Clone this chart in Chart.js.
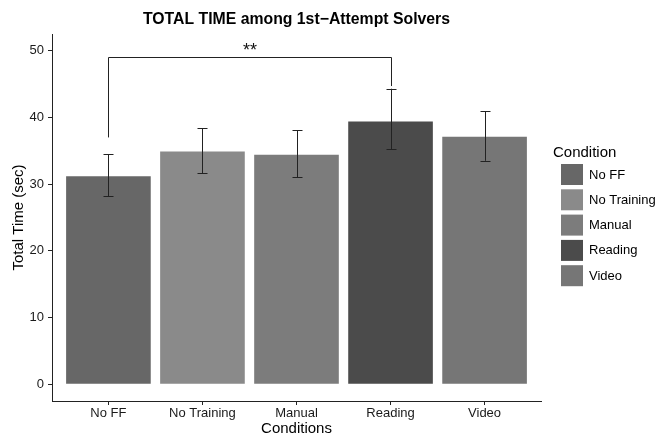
<!DOCTYPE html>
<html><head><meta charset="utf-8">
<script src="https://cdn.jsdelivr.net/npm/chart.js@4/dist/chart.umd.min.js"></script>
<style>html,body{margin:0;padding:0;background:#fff}</style>
</head><body>
<canvas id="c" width="656" height="439"></canvas>
<script>
const categories = ["No FF", "No Training", "Manual", "Reading", "Video"];
const values = [31.2, 34.9, 34.4, 39.4, 37.1];
const errLow = [28.2, 31.6, 31.0, 35.2, 33.5];
const errHigh = [34.5, 38.4, 38.1, 44.3, 40.9];
const colors = ["#676767", "#8a8a8a", "#7c7c7c", "#4b4b4b", "#767676"];
const yTicks = [0, 10, 20, 30, 40, 50];
const bracket = {from: 1, to: 4, leftY: 37.0, topY: 49.0, rightY: 44.7, label: "**"};
const FONT = "'Liberation Sans', Arial, Helvetica, sans-serif";

const overlay = {
  id: 'overlay',
  afterDatasetsDraw(chart) {
    const ctx = chart.ctx, x = chart.scales.x, y = chart.scales.y;
    ctx.save();
    // error bars
    ctx.strokeStyle = '#222'; ctx.lineWidth = 1;
    values.forEach((v, i) => {
      const px = Math.round(x.getPixelForValue(i + 1)) + 0.5;
      const lo = y.getPixelForValue(errLow[i]), hi = y.getPixelForValue(errHigh[i]);
      ctx.beginPath();
      ctx.moveTo(px, lo); ctx.lineTo(px, hi);
      ctx.moveTo(px - 5, Math.round(lo) + 0.5); ctx.lineTo(px + 5, Math.round(lo) + 0.5);
      ctx.moveTo(px - 5, Math.round(hi) + 0.5); ctx.lineTo(px + 5, Math.round(hi) + 0.5);
      ctx.stroke();
    });
    // significance bracket
    const bx1 = Math.round(x.getPixelForValue(bracket.from)) + 0.5;
    const bx2 = Math.round(x.getPixelForValue(bracket.to)) + 0.5;
    const by = Math.round(y.getPixelForValue(bracket.topY)) + 0.5;
    ctx.beginPath();
    ctx.moveTo(bx1, y.getPixelForValue(bracket.leftY));
    ctx.lineTo(bx1, by); ctx.lineTo(bx2, by);
    ctx.lineTo(bx2, y.getPixelForValue(bracket.rightY));
    ctx.stroke();
    ctx.fillStyle = '#111';
    ctx.font = "18px " + FONT;
    ctx.textAlign = 'center'; ctx.textBaseline = 'middle';
    ctx.fillText(bracket.label, (bx1 + bx2) / 2, by - 6);
    // title
    const ca = chart.chartArea;
    ctx.font = "bold 15.8px " + FONT;
    ctx.fillStyle = '#000';
    ctx.fillText("TOTAL TIME among 1st\u2212Attempt Solvers", (ca.left + ca.right) / 2, 20);
    // legend
    ctx.textAlign = 'left';
    ctx.font = "15px " + FONT;
    ctx.fillText("Condition", 553, 153);
    ctx.font = "13px " + FONT;
    categories.forEach((c, i) => {
      const top = 164 + i * 25.3;
      ctx.fillStyle = colors[i];
      ctx.fillRect(561, top, 22, 21);
      ctx.fillStyle = '#000';
      ctx.fillText(c, 589, top + 11);
    });
    ctx.restore();
  }
};

new Chart(document.getElementById('c'), {
  type: 'bar',
  data: {
    datasets: [{
      data: values.map((v, i) => ({x: i + 1, y: v})),
      backgroundColor: colors,
      borderWidth: 0,
      categoryPercentage: 1.0,
      barPercentage: 0.9
    }]
  },
  options: {
    responsive: false,
    animation: false,
    devicePixelRatio: 1,
    layout: {padding: {top: 34, right: 115, left: 10, bottom: 0}},
    plugins: {legend: {display: false}, title: {display: false}, tooltip: {enabled: false}},
    scales: {
      x: {
        type: 'linear', min: 0.4, max: 5.6, offset: false,
        grid: {display: true, offset: false, drawOnChartArea: false, drawTicks: true, tickLength: 4, color: '#222'},
        border: {display: true, color: '#222', width: 1},
        afterBuildTicks(s) { s.ticks = categories.map((c, i) => ({value: i + 1})); },
        afterFit(s) { s.height = 38; },
        ticks: {
          autoSkip: false, maxRotation: 0, padding: 1, color: '#1a1a1a',
          font: {family: FONT, size: 13},
          callback: (v) => categories[v - 1]
        },
        title: {display: true, text: 'Conditions', color: '#000', font: {family: FONT, size: 15}, padding: {top: 0, bottom: 1}}
      },
      y: {
        min: -2.5, max: 52.5,
        grid: {display: true, drawOnChartArea: false, drawTicks: true, tickLength: 4, color: '#222'},
        border: {display: true, color: '#222', width: 1},
        afterBuildTicks(s) { s.ticks = yTicks.map(v => ({value: v})); },
        afterFit(s) { s.width = 42; },
        ticks: {padding: 4, color: '#1a1a1a', font: {family: FONT, size: 13}},
        title: {display: true, text: 'Total Time (sec)', color: '#000', font: {family: FONT, size: 15}, padding: {top: 0, bottom: 0}}
      }
    }
  },
  plugins: [overlay]
});
</script>
</body></html>
